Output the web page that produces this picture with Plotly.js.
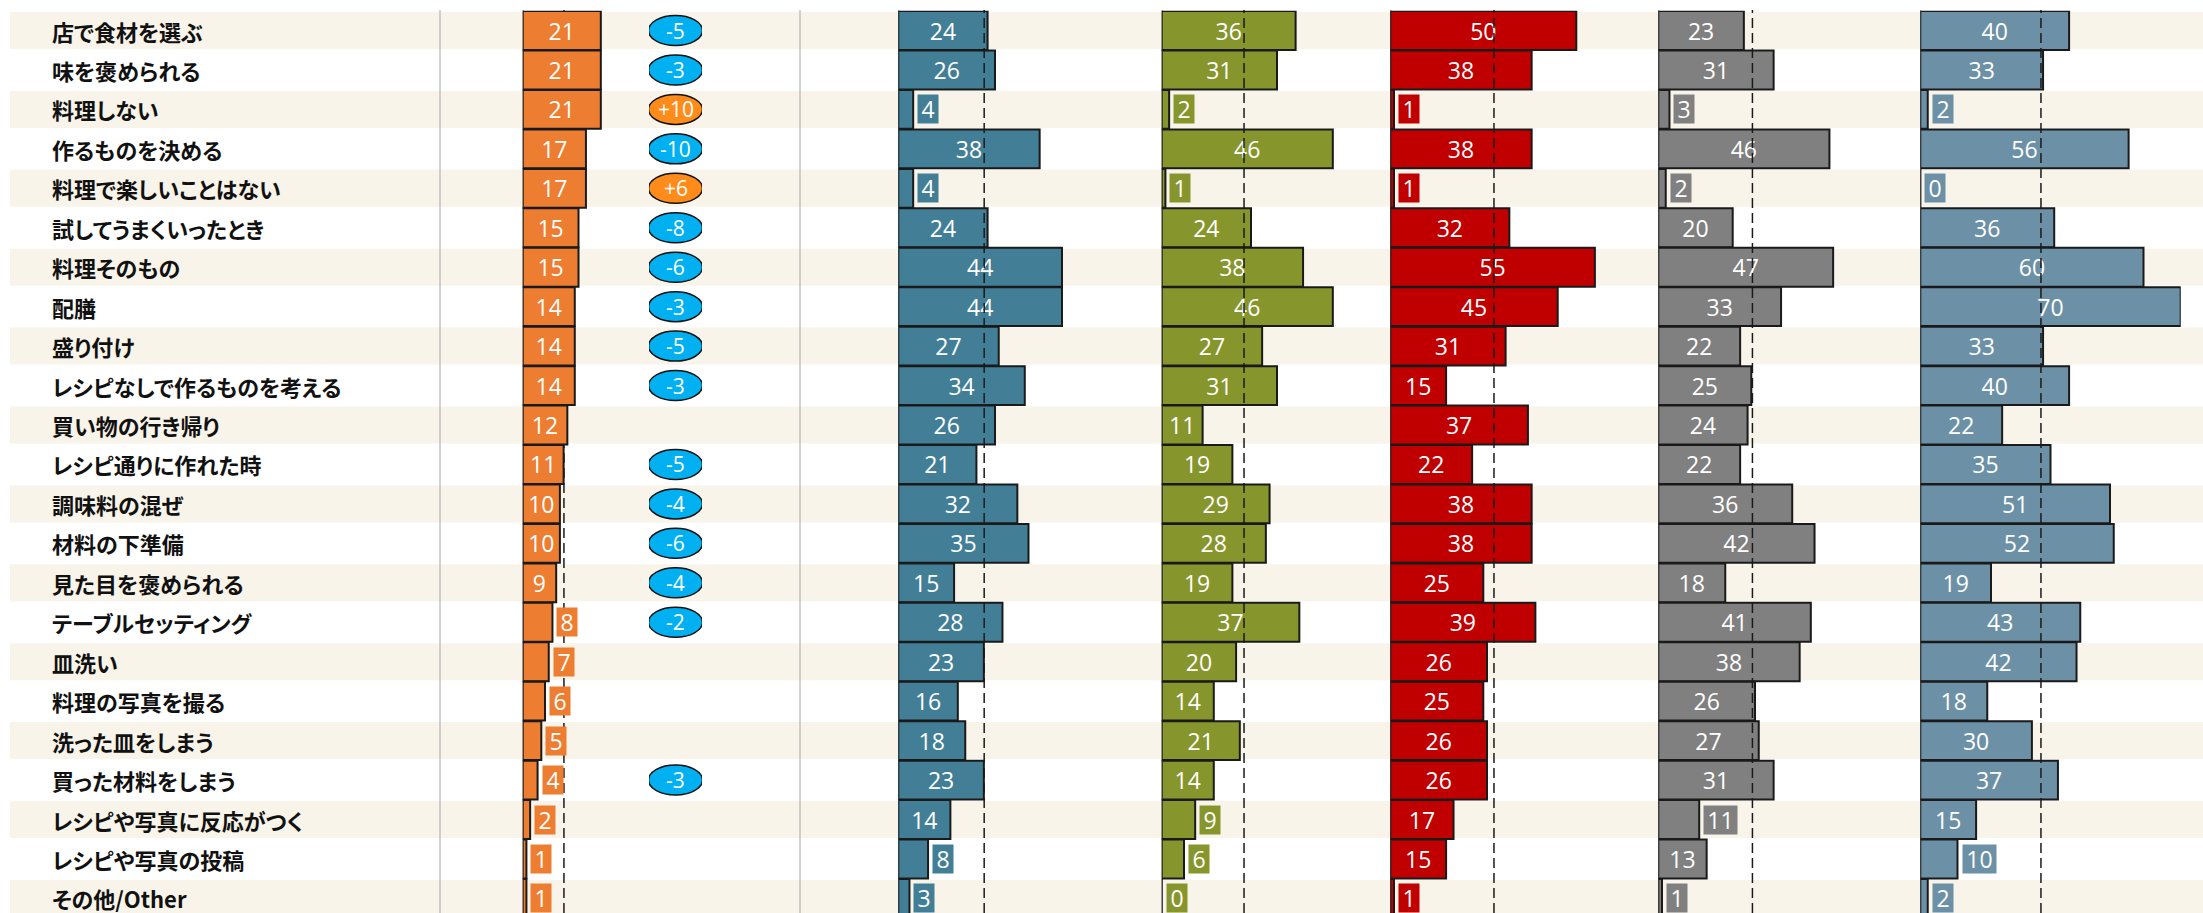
<!DOCTYPE html>
<html><head><meta charset="utf-8">
<script src="https://cdn.plot.ly/plotly-3.0.1.min.js"></script>
<style>html,body{margin:0;padding:0;background:#fff;}#chart{width:2203px;height:913px;}
#chart text.annotation-text{font-feature-settings:"palt" 1;}</style>
</head><body><div id="chart"></div>
<script>
// ---- data ----
const categories = ['店で食材を選ぶ','味を褒められる','料理しない','作るものを決める','料理で楽しいことはない','試してうまくいったとき','料理そのもの','配膳','盛り付け','レシピなしで作るものを考える','買い物の行き帰り','レシピ通りに作れた時','調味料の混ぜ','材料の下準備','見た目を褒められる','テーブルセッティング','皿洗い','料理の写真を撮る','洗った皿をしまう','買った材料をしまう','レシピや写真に反応がつく','レシピや写真の投稿','その他/Other'];
const totalValues = [21,21,21,17,17,15,15,14,14,14,12,11,10,10,9,8,7,6,5,4,2,1,1];
const changeValues = [-5,-3,10,-10,6,-8,-6,-3,-5,-3,null,-5,-4,-6,-4,-2,null,null,null,-3,null,null,null];
const group1Values = [24,26,4,38,4,24,44,44,27,34,26,21,32,35,15,28,23,16,18,23,14,8,3];
const group2Values = [36,31,2,46,1,24,38,46,27,31,11,19,29,28,19,37,20,14,21,14,9,6,0];
const group3Values = [50,38,1,38,1,32,55,45,31,15,37,22,38,38,25,39,26,25,26,26,17,15,1];
const group4Values = [23,31,3,46,2,20,47,33,22,25,24,22,36,42,18,41,38,26,27,31,11,13,1];
const group5Values = [40,33,2,56,0,36,60,70,33,40,22,35,51,52,19,43,42,18,30,37,15,10,2];

// ---- style / layout ----
const W = 2203, H = 913;
const PXU = 3.72, R = 70;
const TOP = 903 / H;
const panels = [
  {vals: totalValues,  color: '#ED7D31', base: 522.7,  minInside: 9,  meanLayer: 'below'},
  {vals: group1Values, color: '#427F97', base: 898.3,  minInside: 10, meanLayer: 'above'},
  {vals: group2Values, color: '#87952D', base: 1161.7, minInside: 10, meanLayer: 'above'},
  {vals: group3Values, color: '#C00000', base: 1390.3, minInside: 15, meanLayer: 'above'},
  {vals: group4Values, color: '#808080', base: 1658.3, minInside: 12, meanLayer: 'above'},
  {vals: group5Values, color: '#6C91A6', base: 1920.3, minInside: 12, meanLayer: 'above'}
];
const idx = categories.map((c, i) => i);
const numFont = {family: 'Open Sans, Noto Sans, sans-serif', size: 23, color: '#ffffff'};

const layout = {
  width: W, height: H,
  margin: {l: 0, r: 0, t: 0, b: 0},
  paper_bgcolor: '#ffffff', plot_bgcolor: 'rgba(0,0,0,0)',
  showlegend: false, bargap: 0,
  yaxis: {domain: [0, 0.98817], range: [22.37, -0.5], anchor: 'x', visible: false, fixedrange: true},
  shapes: [], annotations: []
};
const traces = [];

// stripes
idx.forEach(i => {
  if (i % 2 === 0) layout.shapes.push({type: 'rect', xref: 'paper', yref: 'y', x0: 10 / W, x1: 1, y0: i - 0.469, y1: i + 0.469,
    fillcolor: '#F8F4E9', line: {width: 0}, layer: 'below'});
});
// separators
[440, 800].forEach(px => layout.shapes.push({type: 'line', xref: 'paper', yref: 'paper', x0: px / W, x1: px / W, y0: 0, y1: TOP,
  line: {color: '#A6A6A6', width: 1}, layer: 'below'}));

panels.forEach((p, k) => {
  const xa = 'x' + (k ? k + 1 : '');
  const axName = 'xaxis' + (k ? k + 1 : '');
  layout[axName] = {domain: [p.base / W, (p.base + R * PXU) / W], range: [0, R], anchor: 'y', visible: false, fixedrange: true};
  traces.push({
    type: 'bar', orientation: 'h', x: p.vals, y: idx, xaxis: xa, yaxis: 'y', width: 0.985,
    marker: {color: p.color, line: {color: '#1a1a1a', width: 2}},
    text: p.vals.map(v => v >= p.minInside ? String(v) : ''),
    textposition: 'inside', insidetextanchor: 'middle', textangle: 0, constraintext: 'none',
    textfont: numFont, hoverinfo: 'skip', cliponaxis: false
  });
  // zero line
  layout.shapes.push({type: 'line', xref: xa, yref: 'paper', x0: 0, x1: 0, y0: 0, y1: TOP,
    line: {color: '#7F7F7F', width: 2}, layer: 'below'});
  // mean dashed line
  const mean = p.vals.reduce((a, b) => a + b, 0) / p.vals.length;
  layout.shapes.push({type: 'line', xref: xa, yref: 'paper', x0: mean, x1: mean, y0: 0, y1: TOP,
    line: {color: '#1a1a1a', width: 1.5, dash: '10px,5px'}, layer: p.meanLayer});
  // outside labels
  p.vals.forEach((v, i) => {
    if (v < p.minInside) {
      const s = String(v);
      layout.annotations.push({xref: xa, yref: 'y', x: v, y: i, xanchor: 'left', yanchor: 'middle', xshift: 4,
        text: s, showarrow: false, bgcolor: p.color, font: numFont, width: s.length * 13 + 7, height: 28, borderpad: 0});
    }
  });
});

// change badges
layout.xaxis7 = {domain: [649 / W, 702 / W], range: [-1, 1], anchor: 'y', visible: false, fixedrange: true};
changeValues.forEach((v, i) => {
  if (v === null) return;
  layout.shapes.push({type: 'circle', xref: 'x7', yref: 'y', xsizemode: 'pixel', ysizemode: 'pixel', xanchor: 0, yanchor: i,
    x0: -27, x1: 27, y0: -15, y1: 15, fillcolor: v > 0 ? '#FF8C1A' : '#00B0F0', line: {color: '#111111', width: 1.5}, layer: 'above'});
  layout.annotations.push({xref: 'x7', yref: 'y', x: 0, y: i, text: (v > 0 ? '+' : '') + v, showarrow: false,
    font: {family: 'Open Sans, Noto Sans, sans-serif', size: 21, color: '#ffffff'}});
});

// category labels
categories.forEach((c, i) => {
  layout.annotations.push({xref: 'paper', yref: 'y', x: 50 / W, y: i, xanchor: 'left', yanchor: 'middle', align: 'left', text: c, showarrow: false,
    font: {family: 'Noto Sans CJK JP, Noto Sans, sans-serif', size: 22, color: '#111111', weight: 'bold'}});
});

Plotly.newPlot('chart', traces, layout, {displayModeBar: false, staticPlot: true});
</script></body></html>
